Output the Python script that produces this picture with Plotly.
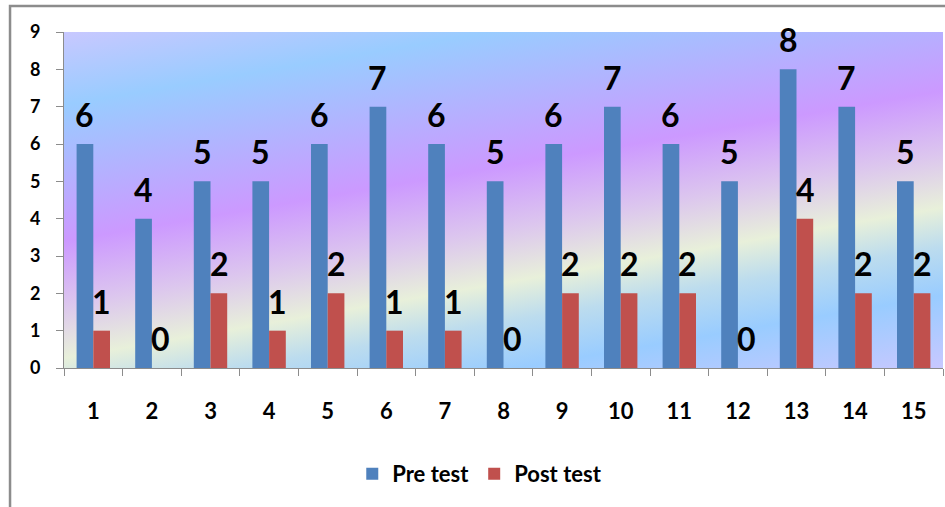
import base64
import plotly.graph_objects as go

categories = [str(i) for i in range(1, 16)]
pre_test = [6, 4, 5, 5, 6, 7, 6, 5, 6, 7, 6, 5, 8, 7, 5]
post_test = [1, 0, 2, 1, 2, 1, 1, 0, 2, 2, 2, 0, 4, 2, 2]
series_names = ["Pre test", "Post test"]
y_ticks = list(range(0, 10))

BLUE = "#4f81bd"
RED = "#c0504d"
FONT = "Lato"

# plot-area gradient background (SVG)
svg = """<svg xmlns='http://www.w3.org/2000/svg' width='879' height='336' viewBox='0 0 879 336' preserveAspectRatio='none'>
<defs><linearGradient id='g' gradientUnits='userSpaceOnUse' x1='0' y1='0' x2='81' y2='473'>
<stop offset='0' stop-color='#c8c8ff'/>
<stop offset='0.15' stop-color='#99ccff'/>
<stop offset='0.43' stop-color='#cc99ff'/>
<stop offset='0.56' stop-color='#dcc6ee'/>
<stop offset='0.67' stop-color='#e8f0da'/>
<stop offset='0.75' stop-color='#bcdcee'/>
<stop offset='0.85' stop-color='#99ccff'/>
<stop offset='1' stop-color='#c8c8ff'/>
</linearGradient></defs>
<rect x='0' y='0' width='879' height='336' fill='url(#g)'/>
</svg>"""
svg_uri = "data:image/svg+xml;base64," + base64.b64encode(svg.encode()).decode()

fig = go.Figure()
fig.add_trace(go.Bar(x=categories, y=pre_test, name=series_names[0],
                     marker=dict(color=BLUE, line=dict(width=0))))
fig.add_trace(go.Bar(x=categories, y=post_test, name=series_names[1],
                     marker=dict(color=RED, line=dict(width=0))))

annotations = []
for vals, shift in ((pre_test, -8.5), (post_test, 8.5)):
    for i, v in enumerate(vals):
        annotations.append(dict(x=i, y=v, xref="x", yref="y", text=str(v),
                                showarrow=False, yanchor="bottom", xanchor="center",
                                xshift=shift, yshift=8,
                                font=dict(family=FONT, size=32, color="black", weight="bold")))

fig.update_layout(
    width=945, height=507,
    margin=dict(l=64, r=2, t=32, b=139),
    paper_bgcolor="white", plot_bgcolor="rgba(0,0,0,0)",
    barmode="group", bargap=0.43, bargroupgap=0,
    font=dict(family=FONT, color="black"),
    showlegend=True,
    legend=dict(orientation="h", x=0.473, xanchor="center", y=-0.315, yanchor="middle",
                font=dict(family=FONT, size=22, color="black", weight="bold"),
                itemsizing="constant", tracegroupgap=0, bgcolor="rgba(0,0,0,0)"),
    annotations=annotations,
    images=[dict(source=svg_uri, xref="paper", yref="paper", x=0, y=1, sizex=1, sizey=1,
                 xanchor="left", yanchor="top", sizing="stretch", layer="below")],
    shapes=[dict(type="rect", xref="paper", yref="paper", x0=-0.0614, x1=1.2, y0=-1.0, y1=1.0774,
                 line=dict(color="#8c8c8c", width=2.5), fillcolor="rgba(0,0,0,0)", layer="below")],
)
fig.update_xaxes(type="category", range=[-0.5, 14.5], showgrid=False, showline=True,
                 linecolor="#8c8c8c", linewidth=1,
                 ticks="outside", tickson="boundaries", ticklen=7, tickcolor="#8c8c8c",
                 tickfont=dict(family=FONT, size=22, color="black", weight="bold"),
                 ticklabelstandoff=24, zeroline=False)
fig.update_yaxes(range=[0, 9], tickvals=y_ticks, showgrid=False, showline=True, linecolor="#8c8c8c",
                 linewidth=1, ticks="outside", ticklen=7, tickcolor="#8c8c8c",
                 tickfont=dict(family=FONT, size=18, color="black", weight="bold"),
                 ticklabelstandoff=12, zeroline=False)

fig.write_html("out.html", config={"displayModeBar": False},
               post_script="document.body.style.margin='0';")
